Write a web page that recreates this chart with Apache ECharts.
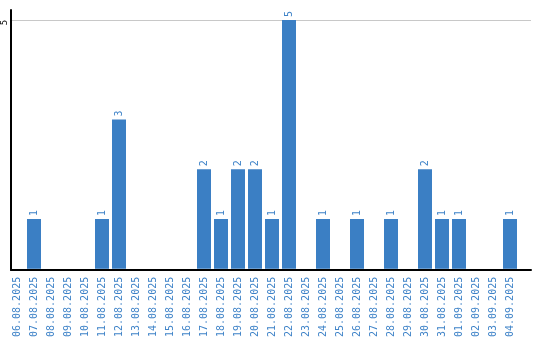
<!DOCTYPE html>
<html><head><meta charset="utf-8">
<script src="https://cdn.jsdelivr.net/npm/echarts@6/dist/echarts.min.js"></script>
<style>html,body{margin:0;padding:0;background:#fff}#c{width:540px;height:340px}</style>
</head><body><div id="c"></div>
<script>
var categories = ["06.08.2025","07.08.2025","08.08.2025","09.08.2025","10.08.2025","11.08.2025","12.08.2025","13.08.2025","14.08.2025","15.08.2025","16.08.2025","17.08.2025","18.08.2025","19.08.2025","20.08.2025","21.08.2025","22.08.2025","23.08.2025","24.08.2025","25.08.2025","26.08.2025","27.08.2025","28.08.2025","29.08.2025","30.08.2025","31.08.2025","01.09.2025","02.09.2025","03.09.2025","04.09.2025"];
var values = [0,1,0,0,0,1,3,0,0,0,0,2,1,2,2,1,5,0,1,0,1,0,1,0,2,1,1,0,0,1];
var yTickLabels = ["5"];

var blue = '#3b7fc4';
var textBlue = '#3f83c8';
var font = 'DejaVu Sans Mono';
var chart = echarts.init(document.getElementById('c'), null, {renderer: 'canvas'});
chart.setOption({
  animation: false,
  grid: [
    {left: 8.5, right: 21.5, top: 10, bottom: 70},
    {left: 11, right: 9, top: 10, bottom: 70}
  ],
  xAxis: [
    {type: 'category', gridIndex: 0, data: categories,
     axisLine: {show: false}, axisTick: {show: false},
     axisLabel: {rotate: 90, interval: 0, color: textBlue, fontFamily: font, fontSize: 10, margin: 8}},
    {type: 'category', gridIndex: 1, data: [''],
     axisLine: {show: true, lineStyle: {color: '#000', width: 2}}, axisTick: {show: false},
     axisLabel: {show: false}}
  ],
  yAxis: [
    {type: 'value', gridIndex: 0, min: 0, max: 5.2, interval: 5, show: false, splitLine: {show: false}},
    {type: 'value', gridIndex: 1, min: 0, max: 5.2, interval: 5,
     axisLine: {show: true, lineStyle: {color: '#000', width: 2}}, axisTick: {show: false},
     splitLine: {show: true, showMinLine: false, showMaxLine: false, lineStyle: {color: '#c8c8c8', width: 1}},
     axisLabel: {rotate: 90, color: '#000', fontFamily: font, fontSize: 9, margin: 2,
       padding: [0, 5, 0, 0],
       showMaxLabel: false, showMinLabel: false,
       formatter: function (v) { return yTickLabels.indexOf(String(v)) >= 0 ? String(v) : ''; }}}
  ],
  series: [{
    type: 'bar', xAxisIndex: 0, yAxisIndex: 0, data: values, barWidth: 14,
    itemStyle: {color: blue},
    label: {show: true, position: 'top', rotate: 90, align: 'left', verticalAlign: 'middle',
      color: textBlue, fontFamily: font, fontSize: 10, distance: 3,
      formatter: function (p) { return p.value > 0 ? String(p.value) : ''; }}
  }]
});
</script></body></html>
